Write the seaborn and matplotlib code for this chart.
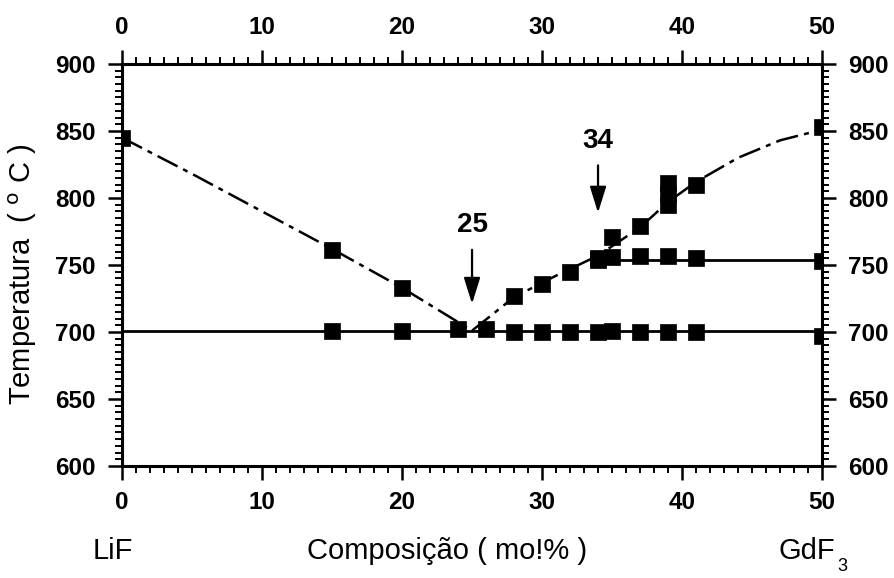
import matplotlib
matplotlib.use("Agg")
import matplotlib.pyplot as plt
import seaborn as sns
from matplotlib.ticker import MultipleLocator

# ---- data ----
liq_x = [0, 15, 20, 28, 30, 32, 34, 35, 37, 39, 39, 39, 41, 50]
liq_T = [845, 761, 733, 727, 736, 745, 754, 771, 779, 811, 803, 795, 810, 853]

mid_x = [34, 35, 37, 39, 41, 50]
mid_T = [755, 756, 757, 757, 755, 753]

sol_x = [15, 20, 24, 26, 28, 30, 32, 34, 35, 37, 39, 41, 50]
sol_T = [701, 701, 702, 702, 700, 700, 700, 700, 701, 700, 700, 700, 697]

# liquidus curve
curve_x = [0, 5, 10, 15, 20, 25, 28, 31, 34, 37, 39, 41, 44, 47, 50]
curve_T = [845, 818, 790, 762, 733, 701, 726, 742, 757, 778, 797, 812, 830, 843, 851]

solline_x = [0, 50]
solline_T = [701, 701]
midline_x = [34, 50]
midline_T = [754, 754]

x_ticks = [0, 10, 20, 30, 40, 50]
y_ticks = [600, 650, 700, 750, 800, 850, 900]

sns.set_theme(style="ticks")
plt.rcParams['font.family'] = ['Liberation Sans', 'DejaVu Sans']
plt.rcParams.update({"text.color": "black", "axes.labelcolor": "black",
                     "xtick.color": "black", "ytick.color": "black",
                     "axes.edgecolor": "black"})

fig = plt.figure(figsize=(8.94, 5.78), dpi=100)
ax = fig.add_axes([0.1365, 0.1938, 0.7830, 0.6955])

sns.lineplot(x=curve_x, y=curve_T, ax=ax, color="black", lw=1.8,
             estimator=None, sort=False)
ax.lines[-1].set_dashes((9, 2.5, 2, 2.5))
sns.lineplot(x=solline_x, y=solline_T, ax=ax, color="black", lw=2.0, estimator=None)
sns.lineplot(x=midline_x, y=midline_T, ax=ax, color="black", lw=2.0, estimator=None)

for xs, ys in [(liq_x, liq_T), (mid_x, mid_T), (sol_x, sol_T)]:
    sns.scatterplot(x=xs, y=ys, ax=ax, marker="s", s=140, color="black",
                    edgecolor="black", linewidth=0.5, zorder=5)

ax.set_xlim(0, 50)
ax.set_ylim(600, 900)
ax.set_xticks(x_ticks)
ax.set_yticks(y_ticks)
ax.xaxis.set_minor_locator(MultipleLocator(1))
ax.yaxis.set_minor_locator(MultipleLocator(5))

for s in ax.spines.values():
    s.set_visible(True)
    s.set_linewidth(2.2)
    s.set_color("black")

ax.tick_params(axis="both", which="both", direction="out", color="black",
               top=True, right=True, labeltop=True, labelright=True,
               labelsize=17.5)
ax.tick_params(which="major", length=10, width=1.8)
ax.tick_params(which="minor", length=5, width=1.4)
ax.tick_params(axis="x", which="major", pad=8)
ax.tick_params(axis="y", which="major", pad=9)
for lab in ax.xaxis.get_ticklabels(which="both") + ax.yaxis.get_ticklabels(which="both"):
    lab.set_fontweight("bold")

ax.set_xlabel("")
ax.set_ylabel("")
fig.text(0.026, 0.525, r"Temperatura  ( $^{\mathrm{o}}$ C )", fontsize=21,
         rotation=90, ha="center", va="center")

fig.text(0.126, 0.047, "LiF", fontsize=21, ha="center", va="center")
fig.text(0.50, 0.047, "Composição ( mo!% )", fontsize=21, ha="center", va="center")
fig.text(0.902, 0.047, "GdF", fontsize=21, ha="center", va="center")
fig.text(0.942, 0.006, "3", fontsize=13, ha="center", va="bottom")

ax.annotate("25", xy=(25, 721), xytext=(25, 770), fontsize=20, fontweight="bold",
            ha="center", va="bottom",
            arrowprops=dict(arrowstyle="-|>,head_width=0.25,head_length=0.8",
                            color="black", lw=1.6, shrinkA=6, shrinkB=0))
ax.annotate("34", xy=(34, 789), xytext=(34, 833), fontsize=20, fontweight="bold",
            ha="center", va="bottom",
            arrowprops=dict(arrowstyle="-|>,head_width=0.25,head_length=0.8",
                            color="black", lw=1.6, shrinkA=6, shrinkB=0))

fig.savefig("out.png", dpi=100, facecolor="white")
